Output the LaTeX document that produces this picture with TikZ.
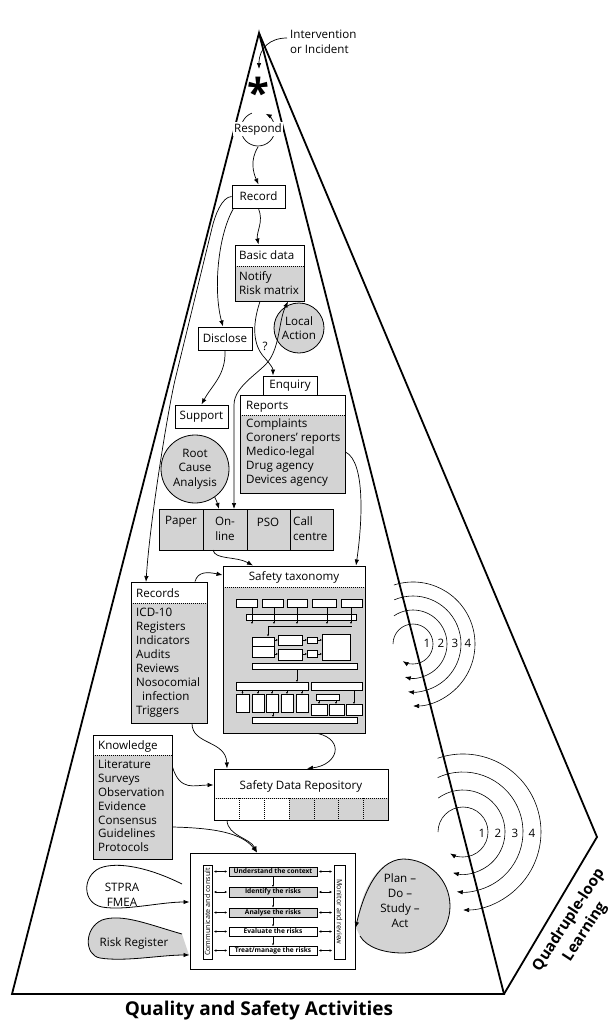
\documentclass[tikz,border=0pt]{standalone}
\usepackage{fontspec}
\setmainfont{Open Sans}
\usetikzlibrary{arrows.meta,calc}
\definecolor{gfill}{RGB}{211,211,211}
\begin{document}
\begin{tikzpicture}[x=1pt,y=-1pt,
  every node/.style={font=\fontsize{11.6}{13}\selectfont, inner sep=0pt},
  box/.style={draw, line width=1pt, fill=white},
  hdr/.style={draw, line width=1pt, fill=gfill, path picture={
     \fill[white] (path picture bounding box.north west) rectangle ([yshift=-#1]path picture bounding box.north east);
     \draw[line width=0.4pt, dash pattern=on 1pt off 1pt] ([yshift=-#1]path picture bounding box.north west) -- ([yshift=-#1]path picture bounding box.north east);}},
  arr/.style={-{Latex[length=6pt,width=4.5pt]}, line width=0.7pt},
  darr/.style={{Latex[length=6pt,width=4.5pt]}-{Latex[length=6pt,width=4.5pt]}, line width=0.7pt},
  tarr/.style={-{Latex[length=2pt,width=2pt]}, line width=0.4pt},
  sarr/.style={{Latex[length=2.5pt,width=2.5pt]}-{Latex[length=2.5pt,width=2.5pt]}, line width=0.5pt},
  ib/.style={draw, line width=0.5pt, fill=white},
  lt/.style={anchor=base west},
  frame/.style={line width=1.8pt},
  stepbox/.style={draw, line width=0.5pt, minimum width=88pt, minimum height=9.5pt, font=\bfseries\fontsize{6.6}{7}\selectfont},
  circ/.style={circle, draw, line width=0.8pt, fill=gfill, align=center, font=\fontsize{11.6}{14.5}\selectfont},
  two/.style={align=center, font=\fontsize{11.6}{15}\selectfont},
  qlt/.style={rotate=57, font=\bfseries\fontsize{15.2}{17}\selectfont}
]
\useasboundingbox (0,0) rectangle (613,1023);

% ---------- frame ----------
\draw[frame] (259,33) -- (504,994) -- (12,994) -- cycle;
\draw[frame] (259,33) -- (597,837) -- (504,994);

% ---------- top ----------
\node[anchor=north west, align=left, font=\fontsize{11.6}{15}\selectfont] (interv) at (290,30) {Intervention\\or Incident};
\coordinate (astin) at (259,69);
\draw[arr] ([xshift=-3pt,yshift=-8pt]interv.north west) .. controls (270,38) and (259,48) .. (astin);
\node[font=\bfseries\fontsize{40}{40}\selectfont] (ast) at (258,92) {*};

\coordinate (respc) at (258,129);
\draw[arr] ($(respc)+(249:17)$) arc[start angle=249, end angle=-63, radius=17];
\node[fill=white, inner sep=1pt] (resp) at (respc) {Respond};

\node[box, minimum width=53pt, minimum height=23pt] (rec) at (258.5,196.5) {Record};
\draw[arr] ([yshift=-18pt]respc) .. controls (250,160) and (253,172) .. (rec.north);

% Basic data
\node[hdr=21pt, minimum width=69pt, minimum height=56pt] (basic) at (269.5,273) {};
\node[lt] at (239,259) {Basic data};
\node[lt] at (239,280) {Notify};
\node[lt] at (239,294) {Risk matrix};
\draw[arr] (rec.south) .. controls (264,222) and (256,232) .. (rec.south |- basic.north);

\node[circ, minimum size=50pt] (local) at (299,328) {Local\\Action};

% Disclose / Support
\node[box, minimum width=54pt, minimum height=23pt] (disc) at (225,338.5) {Disclose};
\draw[arr] ([xshift=2pt]rec.south west) .. controls (218,235) and (213,290) .. ([xshift=-2pt]disc.north);
\node[box, minimum width=53pt, minimum height=23pt] (supp) at (201.5,416.5) {Support};
\draw[arr] (disc.south) .. controls (226,375) and (212,385) .. (supp.north);

% long arrow from Record to Records
\coordinate (recstop) at (146,582);
\draw[arr] (rec.west) .. controls (222,197) and (215,215) .. (212,228) -- (175,380) .. controls (168,410) and (150,520) .. (recstop);

\node[circ, minimum size=68pt] (rca) at (195,469) {Root\\Cause\\Analysis};

% Enquiry / Reports
\node[hdr=20pt, minimum width=105pt, minimum height=98pt] (rep) at (292.5,444) {};
\node[box, minimum width=54pt, minimum height=19pt] (enq) at (290,385.5) {Enquiry};
\node[lt] at (246,409) {Reports};
\foreach \t/\y in {Complaints/423, Coroners’ reports/437, Medico-legal/451, Drug agency/465, Devices agency/479}
  \node[lt] at (246,\y+4) {\t};

% Reporting modes
\node[draw, line width=1pt, fill=gfill, minimum width=174pt, minimum height=41pt] (modes) at (246,529.5) {};
\draw[line width=1pt] (203,509) -- (203,550) (247,509) -- (247,550) (290,509) -- (290,550);
\node (paper) at (181,522) {Paper};
\node[two] (online) at (225,529) {On-\\line};
\node (pso) at (268,522) {PSO};
\node[anchor=west, align=left, font=\fontsize{11.6}{15}\selectfont] (call) at (293,529) {Call\\centre};
\coordinate (onlinetop) at (234,509);
\coordinate (onlinebot) at (213,550);

% decision curves
\draw[arr] ([xshift=-9.5pt]basic.south) .. controls (252,325) and (253,345) .. (264,357) .. controls (270,364) and (273,368) .. (enq.north -| 273,0);
\draw[darr] (onlinetop) -- (234,405) .. controls (234,385) and (262,372) .. (270,359) .. controls (280,343) and (279,320) .. (basic.south -| 288,0);
\node (q) at (265,346) {?};

\draw[arr] (rca.-55) .. controls (217,502) .. (219,509);

% Safety taxonomy
\node[hdr=21pt, minimum width=142pt, minimum height=167pt] (tax) at (294,649.5) {};
\node at (294,577) {Safety taxonomy};
\draw[arr] (rep.east |- 0,452) .. controls (366,462) and (362,525) .. (tax.north -| 356,0);
\draw[arr] (onlinebot) .. controls (215,560) and (236,556) .. (tax.north -| 253,0);

% inner taxonomy diagram
\foreach \a/\b in {236/257, 262/283, 287/307, 312/336, 341/362}
  \draw[ib] (\a,599) rectangle (\b,607);
\draw[ib] (246,614) rectangle (356,620);
\foreach \x in {252,274,297,327,351} \draw[tarr] (\x,607) -- (\x,624);
\draw[line width=0.4pt] (268,626) -- (352,626);
\draw[tarr] (268,626) -- (268,636.5);
\draw[ib] (252,637) rectangle (274,646);
\draw[ib] (252,646) rectangle (274,657);
\draw[ib] (278,635) rectangle (302,645);
\draw[ib] (278,649) rectangle (302,660);
\draw[ib] (307,637) rectangle (317,643);
\draw[ib] (307,650) rectangle (317,657);
\draw[ib] (322,634) rectangle (350,660);
\draw[tarr] (274,640) -- (278,640);
\draw[tarr] (302,640) -- (307,640);
\draw[tarr] (317,640) -- (322,640);
\draw[tarr] (274,654) -- (278,654);
\draw[tarr] (302,654) -- (307,654);
\draw[tarr] (317,654) -- (322,654);
\draw[ib] (252,663) rectangle (357,669);
\draw[tarr] (297,669) -- (297,682);
\draw[ib] (236,682) rectangle (308,690);
\draw[ib] (311,682) rectangle (362,690);
\foreach \a/\b in {236/249, 252/264, 266/278, 281/293, 296/308} {
  \draw[ib] (\a,694) rectangle (\b,712);
  \draw[tarr] ({(\a+\b)/2},690) -- ({(\a+\b)/2},694);
}
\draw[ib] (316,694) rectangle (339,700);
\foreach \a/\b in {311/327, 329/344, 346/362} \draw[ib] (\a,704) rectangle (\b,715);
\draw[tarr] (319,700) -- (319,704);
\draw[tarr] (336,700) -- (336,704);
\draw[tarr] (354,690) -- (354,704);
\draw[ib] (252,717) rectangle (357,723);
\draw[tarr] (273,712) -- (273,717);

% Records
\node[hdr=21pt, minimum width=76pt, minimum height=141pt] (recs) at (169,652.5) {};
\node[lt] at (136,597) {Records};
\foreach \t/\y in {ICD-10/612, Registers/626, Indicators/640, Audits/654, Reviews/668, Nosocomial/682, {\ \ infection}/696, Triggers/710}
  \node[lt] at (136,\y+4) {\t};
\draw[arr] (recs.north -| 195,0) .. controls (198,571) and (208,572) .. (tax.west |- 0,575);

% Safety Data Repository
\node[hdr=29pt, minimum width=174pt, minimum height=51pt] (sdr) at (301,794.5) {};
\fill[white] (214.5,798.5) rectangle (289,819.5);
\draw[line width=0.4pt, dash pattern=on 1pt off 1pt] (214,798) -- (388,798);
\foreach \x in {239,264,289,314,338,363} \draw[line width=0.4pt, dash pattern=on 1pt off 1pt] (\x,798) -- (\x,820);
\draw[line width=1pt] (214,769) rectangle (388,820);
\node at (301,786) {Safety Data Repository};
\draw[arr] (recs.south -| 192,0) .. controls (192,745) and (226,740) .. (sdr.north -| 227,0);
\draw[arr] (tax.south -| 318,0) .. controls (345,740) and (338,765) .. (sdr.north -| 307,0);

% Knowledge
\node[hdr=20pt, minimum width=79pt, minimum height=124pt] (know) at (132.5,797) {};
\node[lt] at (98,749) {Knowledge};
\foreach \t/\y in {Literature/764, Surveys/778, Observation/792, Evidence/806, Consensus/820, Guidelines/833, Protocols/847}
  \node[lt] at (98,\y+4) {\t};
\draw[arr] (know.east |- 0,767) .. controls (180,792) and (195,785) .. (sdr.west |- 0,785);

% Risk process box
\node[box, minimum width=165pt, minimum height=116pt] (risk) at (272.5,911) {};
\draw[arr] (know.east |- 0,827) .. controls (215,828) and (242,833) .. (risk.north -| 257,0);
\draw[arr] (sdr.south -| 227,0) .. controls (228,836) and (250,838) .. (risk.north -| 257,0);

\node[draw, line width=0.6pt, minimum width=9pt, minimum height=94pt] (comm) at (207.5,912) {};
\node[rotate=90, font=\fontsize{7.2}{8}\selectfont] at (comm.center) {Communicate and consult};
\node[draw, line width=0.6pt, minimum width=11pt, minimum height=94pt] (mon) at (339.5,912) {};
\node[rotate=-90, font=\fontsize{7.2}{8}\selectfont] at (mon.center) {Monitor and review};
\node[stepbox, fill=gfill] (s1) at (273,871.5) {Understand the context};
\node[stepbox, fill=gfill] (s2) at (273,892) {Identify the risks};
\node[stepbox, fill=gfill] (s3) at (273,912.5) {Analyse the risks};
\node[stepbox, fill=white] (s4) at (273,931.5) {Evaluate the risks};
\node[stepbox, fill=white] (s5) at (273,950.5) {Treat/manage the risks};
\foreach \s in {s1,s2,s3,s4,s5} {
  \draw[sarr] (comm.east |- \s.west) ++(1.5,0) -- ([xshift=-1.5pt]\s.west);
  \draw[sarr] ([xshift=1.5pt]\s.east) -- ([xshift=-1.5pt]mon.west |- \s.east);
}
\foreach \a/\b in {s1/s2, s2/s3, s3/s4, s4/s5} \draw[tarr] (\a.south) -- (\b.north);

% STPRA / FMEA
\draw[arr, line width=0.8pt] (182,884) .. controls (150,868) and (118,861) .. (100,868) .. controls (82,876) and (82,903) .. (102,907) .. controls (125,911) and (160,902) .. ([yshift=9pt]risk.west);
\node[two] (stpra) at (122,894.5) {STPRA\\FMEA};

% Risk register
\fill[gfill] (182,934) .. controls (150,925) and (122,913) .. (102,920) .. controls (84,928) and (84,955) .. (100,958) .. controls (125,962) and (160,955) .. (189,955) -- cycle;
\draw[arr, line width=0.8pt] (182,934) .. controls (150,925) and (122,913) .. (102,920) .. controls (84,928) and (84,955) .. (100,958) .. controls (125,962) and (160,955) .. ([yshift=-44pt]risk.west);
\node (rr) at (134,943) {Risk Register};

% PDSA
\fill[gfill] (360,936) .. controls (367,948) and (385,953) .. (403,953) arc[start angle=90, end angle=-90, radius=47] .. controls (375,860) and (360,895) .. (356,928) -- cycle;
\draw[arr, line width=0.8pt] (360,936) .. controls (367,948) and (385,953) .. (403,953) arc[start angle=90, end angle=-90, radius=47] .. controls (375,860) and (362,900) .. ([yshift=-17pt]risk.east);
\node[two] (pdsa) at (400,900.5) {Plan –\\Do –\\Study –\\Act};

% loops
\coordinate (uc) at (413,644);
\foreach \r/\s/\e in {20/180/481, 34/236/464, 48/247/456, 62/252/450}
  \draw[arr, line width=0.6pt] ($(uc)+(\s:\r)$) arc[start angle=\s, end angle=\e, radius=\r];
\foreach \n/\x in {1/427, 2/441, 3/455, 4/468} \node at (\x,643) {\n};
\coordinate (lc) at (463,832);
\foreach \r/\s/\e in {25/180/481, 42/234/464, 60/245/456, 78/251/450}
  \draw[arr, line width=0.6pt] ($(lc)+(\s:\r)$) arc[start angle=\s, end angle=\e, radius=\r];
\foreach \n/\x in {1/482, 2/498, 3/515, 4/532} \node at (\x,833) {\n};

\node[qlt] (ql1) at (569,920) {Quadruple-loop};
\node[qlt] (ql2) at (585,932) {Learning};
\node[font=\bfseries\fontsize{19}{21}\selectfont] (title) at (259,1010) {Quality and Safety Activities};
\end{tikzpicture}
\end{document}
